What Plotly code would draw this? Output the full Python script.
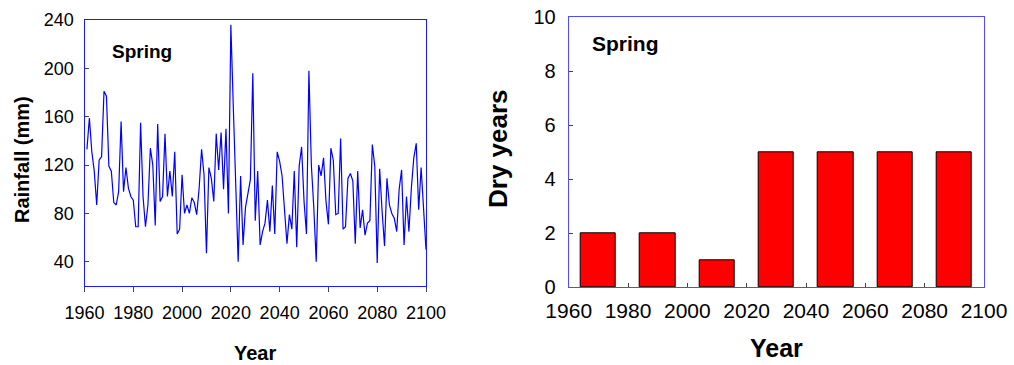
import plotly.graph_objects as go

# ---------------- data ----------------
years = list(range(1961, 2101))
rainfall = [
    133, 159, 131, 115, 87, 124, 127, 181, 177, 119, 115, 89, 87, 98,
    156, 98, 118, 101, 94, 91, 69, 69, 155, 94, 69, 87, 134, 120,
    70, 154, 90, 94, 146, 94, 115, 94, 131, 63, 67, 112, 80, 87,
    80, 93, 89, 79, 101, 133, 112, 47, 118, 109, 90, 146, 116, 147,
    100, 150, 80, 236, 168, 102, 40, 111, 54, 85, 96, 108, 196, 74,
    115, 54, 65, 72, 91, 65, 103, 63, 131, 123, 111, 85, 55, 79,
    67, 115, 52, 119, 135, 90, 63, 198, 120, 85, 40, 120, 111, 126,
    90, 71, 134, 124, 79, 80, 142, 67, 69, 109, 113, 107, 55, 115,
    68, 83, 62, 72, 74, 137, 119, 39, 117, 82, 53, 109, 87, 80,
    76, 65, 100, 116, 54, 94, 65, 101, 126, 138, 83, 118, 82, 50,
]
bar_years = [1970, 1990, 2010, 2030, 2050, 2070, 2090]
dry_years = [2, 2, 1, 5, 5, 5, 5]
x_ticks = [1960, 1980, 2000, 2020, 2040, 2060, 2080, 2100]
rain_ticks = [40, 80, 120, 160, 200, 240]
dry_ticks = [0, 2, 4, 6, 8, 10]

W, H = 1014, 365
FONT = "Liberation Sans, Arial, sans-serif"


def px(x):
    return x / W


def py(y):
    return 1 - y / H


fig = go.Figure()
fig.add_trace(go.Scatter(x=years, y=rainfall, mode="lines",
                         line=dict(color="#0000ff", width=1.2),
                         xaxis="x", yaxis="y", showlegend=False))
fig.add_trace(go.Bar(x=bar_years, y=dry_years, width=12,
                     marker=dict(color="#ff0000", line=dict(color="#000000", width=1)),
                     xaxis="x2", yaxis="y2", showlegend=False))

axis_common = dict(showgrid=False, zeroline=False, showline=True, mirror=True,
                   tickcolor="#444444", tickwidth=1, automargin=False,
                   tickfont=dict(family=FONT, size=18, color="#000000"))

fig.update_layout(
    width=W, height=H, autosize=False,
    margin=dict(l=0, r=0, t=0, b=0, pad=0, autoexpand=False),
    paper_bgcolor="white", plot_bgcolor="white",
    xaxis=dict(axis_common, domain=[px(84.5), px(426)], range=[1960, 2100],
               tickvals=x_ticks, ticks="outside", ticklen=5,
               linecolor="#1a1aff", linewidth=1, anchor="y",
               ticklabelstandoff=5),
    yaxis=dict(axis_common, domain=[py(286), py(20)], range=[20, 240],
               tickvals=rain_ticks, ticks="inside", ticklen=4,
               linecolor="#1a1aff", linewidth=1, anchor="x",
               ticklabelstandoff=6),
    xaxis2=dict(axis_common, domain=[px(568.7), px(984)], range=[1960, 2100],
                tickvals=x_ticks, ticks="inside", ticklen=4,
                linecolor="#4d4dff", linewidth=1, anchor="y2",
                tickfont=dict(family=FONT, size=21, color="#000000"),
                ticklabelstandoff=4),
    yaxis2=dict(axis_common, domain=[py(287.3), py(17.3)], range=[0, 10],
                tickvals=dry_ticks, ticks="inside", ticklen=4,
                linecolor="#4d4dff", linewidth=1, anchor="x2",
                tickfont=dict(family=FONT, size=20, color="#000000"),
                ticklabelstandoff=8),
    bargap=0,
)

ann = [
    dict(text="<b>Spring</b>", x=px(110), y=py(52), xanchor="left", yanchor="middle",
         font=dict(family=FONT, size=19, color="#000000")),
    dict(text="<b>Spring</b>", x=px(590), y=py(44), xanchor="left", yanchor="middle",
         font=dict(family=FONT, size=21, color="#000000")),
    dict(text="<b>Year</b>", x=px(255), y=py(353), xanchor="center", yanchor="middle",
         font=dict(family=FONT, size=20, color="#000000")),
    dict(text="<b>Rainfall (mm)</b>", x=px(22), y=py(160), xanchor="center", yanchor="middle",
         textangle=-90, font=dict(family=FONT, size=20, color="#000000")),
    dict(text="<b>Year</b>", x=px(776), y=py(348), xanchor="center", yanchor="middle",
         font=dict(family=FONT, size=25, color="#000000")),
    dict(text="<b>Dry years</b>", x=px(498), y=py(149), xanchor="center", yanchor="middle",
         textangle=-90, font=dict(family=FONT, size=26, color="#000000")),
]
for a in ann:
    a.update(xref="paper", yref="paper", showarrow=False)
fig.update_layout(annotations=ann)

fig.write_html("out.html")
